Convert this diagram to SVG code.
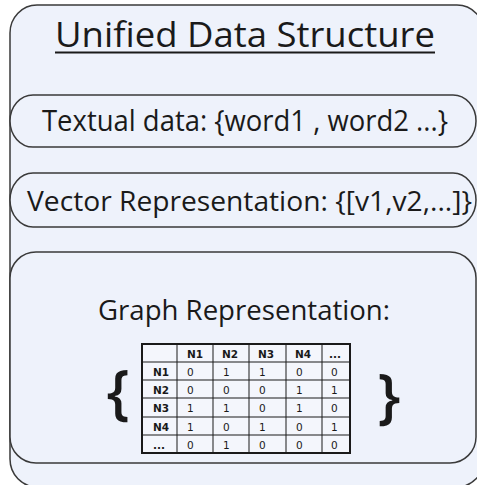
<svg xmlns="http://www.w3.org/2000/svg" width="477" height="485" viewBox="0 0 477 485">
  <style>
    .panel { fill: #eef2fb; stroke: #3a3a3a; stroke-width: 1.5; }
    .label { font-family: "Open Sans", "Liberation Sans", Arial, sans-serif; fill: #1a1a1a; }
    .cell { font-family: "DejaVu Sans", Verdana, sans-serif; font-size: 10.5px; fill: #1a1a1a; }
    .head { font-weight: bold; }
    .grid { stroke: #1a1a1a; stroke-width: 1; fill: none; }
    .brace { font-family: "Open Sans", "Liberation Sans", Arial, sans-serif; font-size: 60px; font-weight: 600; fill: #1a1a1a; text-anchor: middle; }
  </style>
  <rect width="477" height="485" fill="#ffffff"/>

  <!-- outer container -->
  <g id="unified-data-structure">
    <rect class="panel" x="10" y="5" width="474" height="482" rx="27" ry="28"/>
    <text class="label" x="55" y="47" font-size="34" textLength="380" lengthAdjust="spacingAndGlyphs">Unified Data Structure</text>
    <line x1="55" y1="52.5" x2="435" y2="52.5" stroke="#1a1a1a" stroke-width="2"/>
  </g>

  <!-- textual data -->
  <g id="textual-data">
    <rect class="panel" x="10" y="95" width="466" height="52" rx="23" ry="26"/>
    <text class="label" x="42" y="131" font-size="29" textLength="406" lengthAdjust="spacingAndGlyphs">Textual data: {word1 , word2 ...}</text>
  </g>

  <!-- vector representation -->
  <g id="vector-representation">
    <rect class="panel" x="10" y="173" width="466" height="54" rx="23" ry="27"/>
    <text class="label" x="27" y="211" font-size="28" textLength="445" lengthAdjust="spacingAndGlyphs">Vector Representation: {[v1,v2,...]}</text>
  </g>

  <!-- graph representation with adjacency matrix -->
  <g id="graph-representation">
    <rect class="panel" x="10" y="252" width="466" height="211" rx="26" ry="26"/>
    <text class="label" x="98" y="320" font-size="28" textLength="292" lengthAdjust="spacingAndGlyphs">Graph Representation:</text>

    <text class="brace" x="118" y="413">{</text>
    <text class="brace" x="389" y="417">}</text>

    <g id="adjacency-matrix">
      <rect x="142" y="344" width="208" height="109" fill="#f4f6fc" stroke="#1a1a1a" stroke-width="2"/>
      <g class="grid">
        <line x1="177" y1="344" x2="177" y2="453"/>
        <line x1="213" y1="344" x2="213" y2="453"/>
        <line x1="249" y1="344" x2="249" y2="453"/>
        <line x1="286" y1="344" x2="286" y2="453"/>
        <line x1="322" y1="344" x2="322" y2="453"/>
        <line x1="142" y1="362" x2="350" y2="362"/>
        <line x1="142" y1="380" x2="350" y2="380"/>
        <line x1="142" y1="398" x2="350" y2="398"/>
        <line x1="142" y1="417" x2="350" y2="417"/>
        <line x1="142" y1="435" x2="350" y2="435"/>
      </g>
      <!-- header row and row labels -->
      <g class="cell head">
        <text x="187" y="358">N1</text>
        <text x="222" y="358">N2</text>
        <text x="258" y="358">N3</text>
        <text x="295" y="358">N4</text>
        <text x="329" y="358">...</text>
        <text x="153" y="376">N1</text>
        <text x="153" y="394">N2</text>
        <text x="153" y="412">N3</text>
        <text x="153" y="431">N4</text>
        <text x="153" y="449">...</text>
      </g>
      <!-- matrix values -->
      <g class="cell">
        <text x="187" y="376">0</text><text x="223" y="376">1</text><text x="259" y="376">1</text><text x="296" y="376">0</text><text x="331" y="376">0</text>
        <text x="187" y="394">0</text><text x="223" y="394">0</text><text x="259" y="394">0</text><text x="296" y="394">1</text><text x="331" y="394">1</text>
        <text x="187" y="412">1</text><text x="223" y="412">1</text><text x="259" y="412">0</text><text x="296" y="412">1</text><text x="331" y="412">0</text>
        <text x="187" y="431">1</text><text x="223" y="431">0</text><text x="259" y="431">1</text><text x="296" y="431">0</text><text x="331" y="431">1</text>
        <text x="187" y="449">0</text><text x="223" y="449">1</text><text x="259" y="449">0</text><text x="296" y="449">0</text><text x="331" y="449">0</text>
      </g>
    </g>
  </g>
</svg>
